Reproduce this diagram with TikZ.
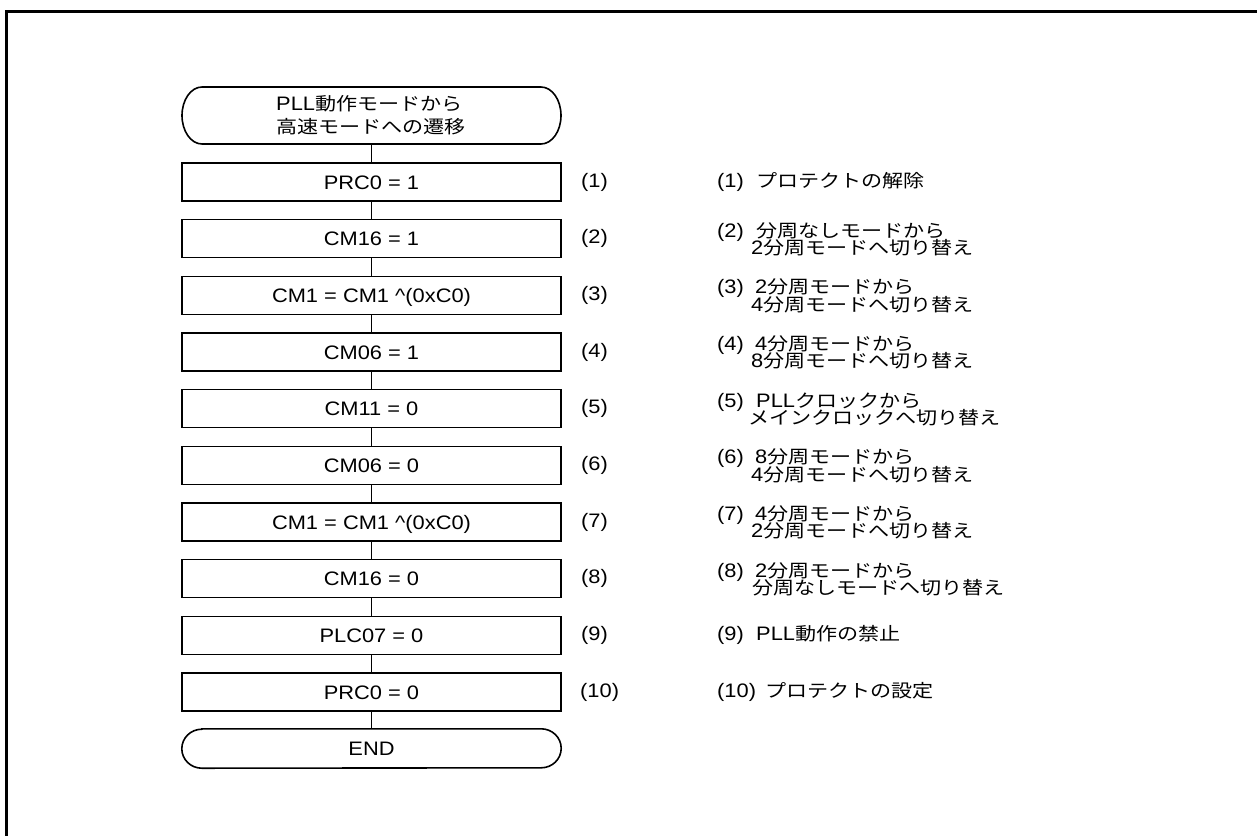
\documentclass[tikz,border=0pt]{standalone}
\usepackage{fontspec}
\setmainfont[FakeStretch=1.12]{Liberation Sans}
\newfontfamily\jp[FakeStretch=1.17]{Noto Sans CJK JP}
\newcommand{\J}[1]{{\jp\fontsize{18}{18}\selectfont #1}}
\begin{document}
\begin{tikzpicture}[x=1pt,y=-1pt,
  every node/.style={inner sep=0pt},
  txt/.style={font=\fontsize{19.5}{23}\selectfont},
  proc/.style={txt, draw, line width=1.6pt, minimum width=379pt, minimum height=38pt, text height=14pt, text depth=0pt},
  term/.style={txt, minimum width=379pt},
  conn/.style={line width=1.6pt},
  frameline/.style={line width=3pt},
  num/.style={txt, anchor=base west},
  desc/.style={txt, anchor=base west}]
\useasboundingbox (0,0) rectangle (1257,836);
\draw[frameline] (1257,11) -- (6,11) -- (6,836);

% terminals
\node[txt, anchor=west, align=left] (start) at (276,115.5)
  {PLL\J{動作モードから}\\\J{高速モードへの遷移}};
\node[term, minimum height=39pt, text height=14pt, text depth=0pt] (end) at (371.5,748.5) {END};
\draw[conn] (202,87) -- (541,87)
    arc[start angle=90, end angle=-90, x radius=20pt, y radius=28.5pt]
    -- (202,144)
    arc[start angle=270, end angle=90, x radius=20pt, y radius=28.5pt] -- cycle;
\draw[conn] ([xshift=20pt]end.north west) -- ([xshift=-20pt]end.north east)
    arc[start angle=90, end angle=-90, x radius=20pt, y radius=19.5pt]
    -- ([xshift=20pt]end.south west)
    arc[start angle=270, end angle=90, x radius=20pt, y radius=19.5pt] -- cycle;
\coordinate (startbot) at (371.5,144);

% process boxes
\node[proc] (b1)  at (371.5,182)    {PRC0 = 1};
\node[proc] (b2)  at (371.5,238.67) {CM16 = 1};
\node[proc] (b3)  at (371.5,295.33) {CM1 = CM1 \^{}(0xC0)};
\node[proc] (b4)  at (371.5,352)    {CM06 = 1};
\node[proc] (b5)  at (371.5,408.67) {CM11 = 0};
\node[proc] (b6)  at (371.5,465.33) {CM06 = 0};
\node[proc] (b7)  at (371.5,522)    {CM1 = CM1 \^{}(0xC0)};
\node[proc] (b8)  at (371.5,578.67) {CM16 = 0};
\node[proc] (b9)  at (371.5,635.33) {PLC07 = 0};
\node[proc] (b10) at (371.5,692)    {PRC0 = 0};

% connectors
\draw[conn] (startbot) -- (b1);
\draw[conn] (b1) -- (b2);
\draw[conn] (b2) -- (b3);
\draw[conn] (b3) -- (b4);
\draw[conn] (b4) -- (b5);
\draw[conn] (b5) -- (b6);
\draw[conn] (b6) -- (b7);
\draw[conn] (b7) -- (b8);
\draw[conn] (b8) -- (b9);
\draw[conn] (b9) -- (b10);
\draw[conn] (b10) -- (end);

% step numbers
\node[num] (n1)  at (581,187)    {(1)};
\node[num] (n2)  at (581,243.67) {(2)};
\node[num] (n3)  at (581,300.33) {(3)};
\node[num] (n4)  at (581,357)    {(4)};
\node[num] (n5)  at (581,413.67) {(5)};
\node[num] (n6)  at (581,470.33) {(6)};
\node[num] (n7)  at (581,527)    {(7)};
\node[num] (n8)  at (581,583.67) {(8)};
\node[num] (n9)  at (581,640.33) {(9)};
\node[num] (n10) at (580,697)    {(10)};

% descriptions
\node[desc] (d1)  at (717,187)    {(1)};
\node[desc] (t1)  at (756,187)    {\J{プロテクトの解除}};
\node[desc] (d2)  at (717,237) {(2)};
\node[desc] (t2)  at (756,237) {\J{分周なしモードから}};
\node[desc] (u2)  at (751,254.5) {2\J{分周モードへ切り替え}};
\node[desc] (d3)  at (717,293.67) {(3)};
\node[desc] (t3)  at (755,293.67) {2\J{分周モードから}};
\node[desc] (u3)  at (751,311.17) {4\J{分周モードへ切り替え}};
\node[desc] (d4)  at (717,350.33)    {(4)};
\node[desc] (t4)  at (755,350.33)    {4\J{分周モードから}};
\node[desc] (u4)  at (751,367.83)    {8\J{分周モードへ切り替え}};
\node[desc] (d5)  at (717,407) {(5)};
\node[desc] (t5)  at (756,407) {PLL\J{クロックから}};
\node[desc] (u5)  at (748,424.5) {\J{メインクロックへ切り替え}};
\node[desc] (d6)  at (717,463.67) {(6)};
\node[desc] (t6)  at (755,463.67) {8\J{分周モードから}};
\node[desc] (u6)  at (751,481.17) {4\J{分周モードへ切り替え}};
\node[desc] (d7)  at (717,520.33)    {(7)};
\node[desc] (t7)  at (755,520.33)    {4\J{分周モードから}};
\node[desc] (u7)  at (751,537.83)    {2\J{分周モードへ切り替え}};
\node[desc] (d8)  at (717,577) {(8)};
\node[desc] (t8)  at (755,577) {2\J{分周モードから}};
\node[desc] (u8)  at (752,594.5) {\J{分周なしモードへ切り替え}};
\node[desc] (d9)  at (717,640.33) {(9)};
\node[desc] (t9)  at (756,640.33) {PLL\J{動作の禁止}};
\node[desc] (d10) at (717,697)    {(10)};
\node[desc] (t10) at (765,697)    {\J{プロテクトの設定}};
\end{tikzpicture}
\end{document}
